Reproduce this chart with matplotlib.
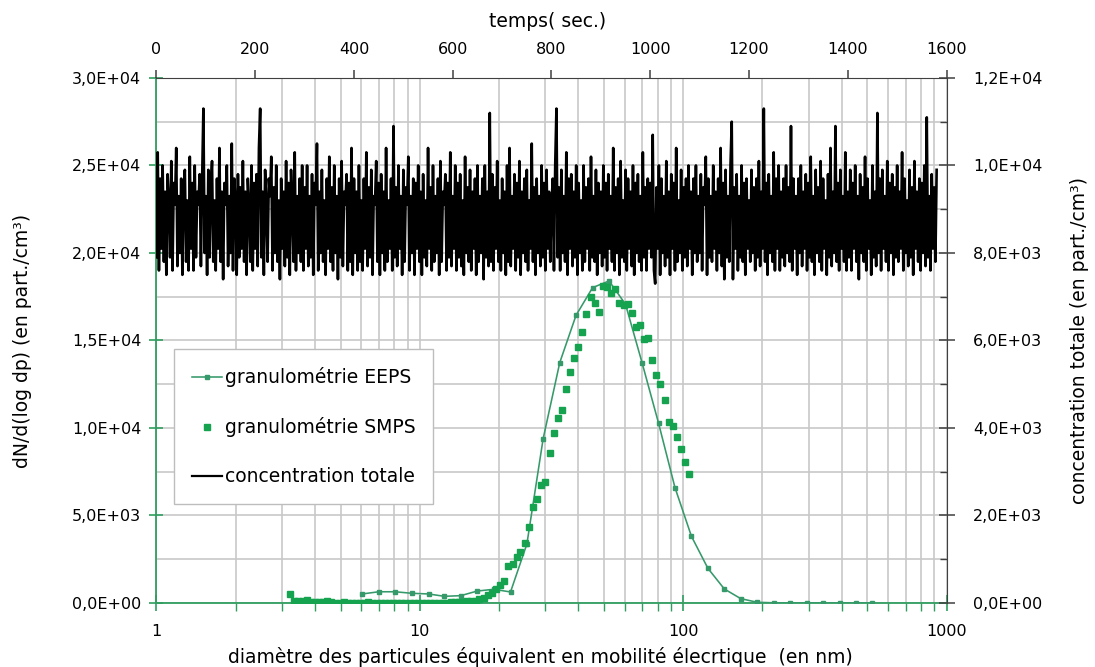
import numpy as np
import matplotlib.pyplot as plt
from matplotlib.ticker import FuncFormatter, MultipleLocator, LogLocator, NullFormatter
from matplotlib.lines import Line2D

plt.rcParams['font.family'] = ['DejaVu Sans']
plt.rcParams['font.size'] = 13.5

GREEN_EEPS = '#35996a'
GREEN_SMPS = '#15a350'
GREEN_AXIS = '#2f9e5f'
GRID = '#c8c8c8'
DARK = '#404040'
TICK_FS = 11.5

# EEPS size distribution (diameter nm, dN/dlogdp)
eeps_dp = [6.04, 6.98, 8.06, 9.31, 10.8, 12.4, 14.3, 16.5, 19.1, 22.1, 25.5, 29.4,
           34.0, 39.2, 45.3, 52.3, 60.4, 69.8, 80.6, 93.1, 107.5, 124.1, 143.3,
           165.5, 191.1, 220.7, 254.8, 294.3, 339.8, 392.4, 453.2, 523.3]
eeps_dn = [514, 640, 640, 554, 514, 380, 417, 680, 783, 628, 3370, 9390,
           13740, 16440, 18020, 18400, 17070, 13730, 10285, 6590, 3810, 1983, 800,
           246, 40, 10, 5, 5, 5, 5, 5, 5]

# SMPS size distribution
smps_dp = [3.22, 3.34, 3.46, 3.59, 3.72, 3.85, 4.00, 4.14, 4.29, 4.45, 4.61, 4.78,
           4.96, 5.14, 5.33, 5.52, 5.73, 5.94, 6.15, 6.38, 6.61, 6.85, 7.10, 7.37,
           7.64, 7.92, 8.21, 8.51, 8.82, 9.14, 9.47, 9.82,
           10.2, 10.6, 10.9, 11.3, 11.8, 12.2, 12.6, 13.1, 13.6, 14.1, 14.6, 15.1,
           15.7, 16.3, 16.8, 17.5, 18.1, 18.8, 19.5, 20.2, 20.9, 21.7, 22.5, 23.3,
           24.1, 25.0, 25.9, 26.9, 27.9, 28.9, 30.0, 31.1,
           32.2, 33.4, 34.6, 35.9, 37.2, 38.5, 40.0, 41.4, 42.9, 44.5, 46.1, 47.8,
           49.6, 51.4, 53.3, 55.2, 57.3, 59.4, 61.5, 63.8, 66.1, 68.5, 71.0, 73.7,
           76.4, 79.1, 82.0, 85.1, 88.2, 91.4, 94.7, 98.2,
           101.8, 105.5]
smps_dn = [514, 110, 100, 110, 190, 80, 50, 40, 50, 90, 30, 20,
           20, 60, 20, 15, 25, 20, 15, 30, 20, 15, 20, 25,
           15, 20, 15, 25, 20, 15, 20, 25,
           20, 15, 25, 20, 15, 20, 25, 30, 40, 60, 76, 85,
           100, 133, 211, 300, 457, 580, 790, 1029, 1276, 2090, 2220, 2610,
           2930, 3410, 4320, 5500, 5920, 6740, 6910, 8550,
           9700, 10590, 11030, 12230, 13180, 14000, 14630, 15480, 16540, 17470, 17160, 16610,
           18110, 18050, 17700, 17930, 17160, 17030, 17090, 16590, 15790, 15890, 15090, 15130,
           13890, 13030, 12500, 11580, 10340, 10110, 9500, 8800,
           8040, 7370]

# total concentration in hundreds of part./cm3, one reading every 2.5 s from t = 0
conc_step = 2.5
conc_hundreds = [
    79, 103, 76, 97, 81, 100, 78, 94, 75, 98, 92, 79, 101, 76, 96, 91, 104, 77, 93, 80,
    97, 75, 95, 99, 78, 92, 76, 102, 81, 96, 76, 100, 79, 94, 91, 98, 77, 97, 113, 80,
    93, 75, 99, 79, 95, 101, 78, 92, 76, 97, 81, 104, 78, 94, 74, 96, 91, 100, 77, 93,
    80, 105, 76, 97, 92, 75, 98, 79, 95, 81, 101, 78, 94, 75, 97, 91, 78, 100, 76, 96,
    81, 98, 77, 104, 113, 79, 94, 75, 99, 91, 78, 97, 93, 102, 76, 95, 80, 100, 78, 92,
    74, 97, 81, 94, 77, 101, 79, 96, 75, 99, 91, 78, 103, 76, 93, 80, 97, 78, 100, 76,
    95, 81, 100, 77, 93, 79, 98, 75, 96, 91, 105, 76, 94, 80, 99, 78, 92, 75, 97, 81,
    102, 78, 95, 76, 100, 80, 93, 74, 97, 79, 101, 77, 94, 91, 98, 76, 96, 78, 104, 75,
    97, 80, 94, 76, 100, 78, 92, 76, 97, 81, 103, 77, 95, 79, 99, 75, 93, 91, 101, 78,
    96, 75, 98, 80, 94, 76, 104, 78, 92, 81, 97, 76, 109, 79, 95, 77, 100, 81, 93, 75,
    99, 78, 95, 91, 102, 76, 93, 80, 97, 75, 96, 81, 100, 78, 94, 75, 98, 79, 92, 77,
    104, 81, 95, 76, 100, 78, 93, 80, 97, 75, 101, 78, 94, 91, 98, 76, 96, 79, 103, 77,
    93, 81, 100, 76, 96, 79, 98, 77, 92, 75, 102, 80, 95, 78, 99, 76, 94, 81, 97, 75,
    100, 78, 93, 80, 97, 74, 100, 79, 94, 77, 112, 78, 98, 76, 95, 81, 101, 78, 92, 76,
    97, 80, 94, 75, 100, 78, 104, 77, 93, 81, 98, 76, 96, 79, 101, 75, 94, 80, 97, 78,
    99, 76, 92, 81, 105, 78, 95, 75, 97, 80, 93, 77, 100, 79, 96, 76, 99, 81, 94, 78,
    91, 97, 76, 100, 113, 79, 95, 76, 99, 80, 93, 78, 103, 75, 97, 81, 98, 77, 94, 79,
    100, 75, 96, 80, 92, 76, 100, 78, 95, 81, 97, 76, 102, 79, 93, 78, 99, 75, 96, 80,
    94, 77, 100, 79, 96, 76, 98, 81, 93, 78, 104, 76, 95, 80, 97, 75, 101, 79, 92, 78,
    99, 76, 97, 81, 94, 77, 100, 75, 96, 80, 98, 78, 93, 76, 103, 79, 95, 76, 97, 81,
    96, 79, 107, 76, 73, 95, 81, 100, 75, 97, 80, 93, 77, 101, 79, 94, 75, 98, 81, 96,
    76, 104, 78, 92, 80, 99, 76, 95, 79, 97, 77, 100, 81, 94, 75, 97, 80, 100, 78, 93,
    80, 98, 76, 95, 91, 102, 75, 97, 79, 93, 78, 100, 81, 94, 76, 97, 80, 104, 77, 96,
    74, 99, 79, 93, 78, 100, 110, 74, 95, 81, 98, 76, 93, 79, 100, 78, 96, 75, 97, 81,
    92, 78, 99, 80, 95, 76, 97, 79, 101, 77, 94, 81, 113, 78, 96, 75, 98, 80, 93, 78,
    103, 76, 97, 81, 100, 76, 94, 79, 97, 77, 100, 80, 95, 78, 109, 76, 97, 81, 93, 75,
    97, 80, 100, 77, 94, 81, 98, 76, 96, 79, 102, 78, 93, 75, 99, 80, 95, 78, 101, 76,
    97, 81, 92, 75, 98, 79, 104, 77, 94, 80, 109, 78, 96, 76, 99, 81, 93, 78, 103, 76,
    94, 79, 99, 76, 96, 81, 100, 78, 93, 74, 98, 80, 95, 78, 102, 76, 97, 81, 92, 75,
    100, 79, 94, 77, 112, 80, 97, 76, 99, 81, 93, 78, 101, 76, 96, 80, 98, 75, 95, 79,
    100, 78, 94, 81, 103, 76, 97, 80, 92, 77, 99, 79, 95, 75, 101, 81, 94, 78, 97, 76,
    96, 80, 100, 77, 111, 79, 93, 76, 98, 81, 95, 78, 99,
]
conc_total = np.array(conc_hundreds) * 100
conc_time = np.arange(len(conc_total)) * conc_step


def sci_fr(v, pos):
    return f"{v:.1E}".replace('.', ',')


fig = plt.figure(figsize=(10.95, 6.67), dpi=100)
ax = fig.add_axes([0.1429, 0.0960, 0.7215, 0.7871])
ax2 = ax.twinx()
ax3 = ax2.twiny()

# size distributions (bottom / left axes)
ax.plot(eeps_dp, eeps_dn, color=GREEN_EEPS, lw=1.15, marker='s', ms=3.5,
        mec=GREEN_EEPS, mfc=GREEN_EEPS, zorder=3)
ax.plot(smps_dp, smps_dn, ls='none', marker='s', ms=3.8,
        mec=GREEN_SMPS, mfc=GREEN_SMPS, zorder=3)
ax.set_xscale('log')
ax.set_xlim(1, 1000)
ax.set_ylim(0, 30000)
ax.xaxis.set_major_locator(LogLocator(base=10, numticks=10))
ax.xaxis.set_minor_locator(LogLocator(base=10, subs=range(2, 10), numticks=20))
ax.xaxis.set_major_formatter(FuncFormatter(lambda v, p: f"{v:g}"))
ax.xaxis.set_minor_formatter(NullFormatter())
ax.yaxis.set_major_locator(MultipleLocator(5000))
ax.yaxis.set_minor_locator(MultipleLocator(2500))
ax.yaxis.set_major_formatter(FuncFormatter(sci_fr))
ax.grid(True, which='both', color=GRID, lw=1.2)
ax.set_axisbelow(True)
for s in ['top', 'right']:
    ax.spines[s].set_visible(False)
for s in ['left', 'bottom']:
    ax.spines[s].set_color(GREEN_AXIS)
    ax.spines[s].set_linewidth(1.3)
ax.tick_params(axis='x', which='major', direction='inout', length=12,
               color=GREEN_AXIS, width=1.2, pad=9, labelsize=TICK_FS)
ax.tick_params(axis='x', which='minor', direction='out', length=6,
               color=GREEN_AXIS, width=1.0)
ax.tick_params(axis='y', which='major', direction='inout', length=10,
               color=GREEN_AXIS, width=1.2, pad=6, labelsize=TICK_FS)
ax.tick_params(axis='y', which='minor', length=0)

ax.set_xlabel("diamètre des particules équivalent en mobilité élecrtique  (en nm)")
ax.xaxis.set_label_coords(0.4854, -0.083)
ax.set_ylabel("dN/d(log dp) (en part./cm³)")
ax.yaxis.set_label_coords(-0.1576, 0.5)

# right axis (total concentration)
ax2.set_ylim(0, 12000)
ax2.yaxis.set_major_locator(MultipleLocator(2000))
ax2.yaxis.set_minor_locator(MultipleLocator(1000))
ax2.yaxis.set_major_formatter(FuncFormatter(sci_fr))
for s in ['top', 'left', 'bottom']:
    ax2.spines[s].set_visible(False)
ax2.spines['right'].set_color(DARK)
ax2.tick_params(axis='y', which='major', direction='inout', length=12,
                color=DARK, width=1.1, pad=13, labelsize=TICK_FS)
ax2.tick_params(axis='y', which='minor', direction='in', length=5,
                color=DARK, width=1.0)
ax2.set_ylabel("concentration totale (en part./cm³)")
ax2.yaxis.set_label_coords(1.1563, 0.5)

# top axis (time)
ax3.plot(conc_time, conc_total, color='black', lw=1.9, zorder=4)
ax3.set_xlim(0, 1600)
ax3.xaxis.set_major_locator(MultipleLocator(200))
for s in ['left', 'right', 'bottom']:
    ax3.spines[s].set_visible(False)
ax3.spines['top'].set_color(DARK)
ax3.tick_params(axis='x', which='major', direction='out', length=6,
                color=DARK, width=1.1, pad=9, labelsize=TICK_FS)
ax3.set_xlabel("temps( sec.)")
ax3.xaxis.set_label_coords(0.4956, 1.098)

handles = [
    Line2D([], [], color=GREEN_EEPS, lw=1.15, marker='s', ms=3.5,
           mec=GREEN_EEPS, mfc=GREEN_EEPS),
    Line2D([], [], ls='none', marker='s', ms=3.8, mec=GREEN_SMPS, mfc=GREEN_SMPS),
    Line2D([], [], color='black', lw=1.6),
]
labels = ["granulométrie EEPS", "granulométrie SMPS", "concentration totale"]
leg = ax3.legend(handles, labels, loc='lower left', bbox_to_anchor=(0.1589, 0.2444),
                 bbox_transform=fig.transFigure, borderaxespad=0, frameon=True,
                 fancybox=False, edgecolor='#bdbdbd', framealpha=1,
                 labelspacing=1.6, handlelength=1.6, handletextpad=0.16,
                 borderpad=0.95, fontsize=13.5)
leg.get_frame().set_linewidth(1.0)

fig.savefig('out.png', dpi=100)
